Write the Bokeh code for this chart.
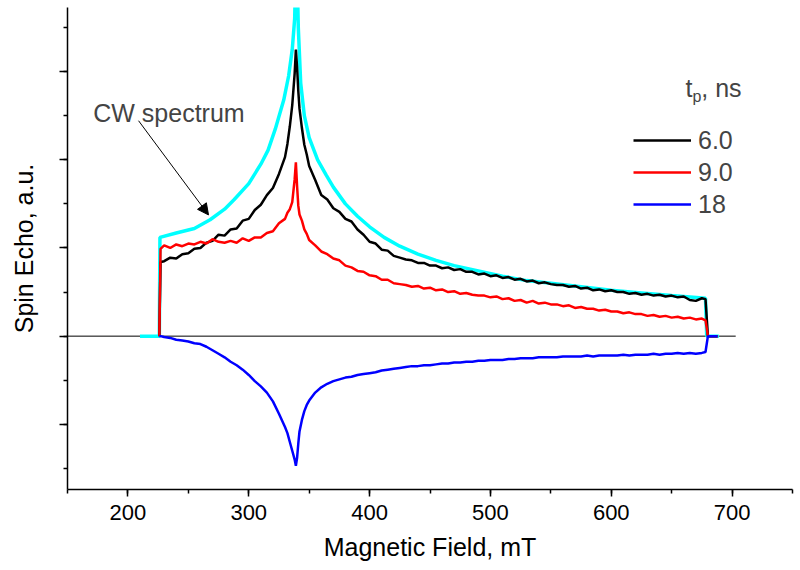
from bokeh.plotting import figure
from bokeh.models import (Range1d, SingleIntervalTicker, Legend, LegendItem, Label,
                          Arrow, NormalHead, CustomJSTickFormatter)
from bokeh.embed import file_html
from bokeh.resources import INLINE

# ---------------- data ----------------
# CW spectrum (cyan)
cw_field = [210, 226, 226.5, 240, 255, 268, 280, 288, 300, 310, 316, 322, 329, 333, 336, 338,
            339.5, 341, 343, 346, 350, 357, 364, 370, 380, 390, 400, 412, 425, 440, 455, 470,
            490, 510, 530, 550, 575, 600, 625, 650, 678, 679, 689]
cw_signal = [0, 0, 1.12, 1.17, 1.22, 1.32, 1.44, 1.55, 1.73, 1.95, 2.11, 2.35, 2.68, 2.95, 3.25, 3.6,
             4.5, 3.5, 2.87, 2.5, 2.25, 2.0, 1.83, 1.69, 1.50, 1.36, 1.24, 1.12, 1.02, 0.93, 0.86, 0.80,
             0.74, 0.68, 0.63, 0.60, 0.56, 0.52, 0.49, 0.46, 0.43, 0, 0]

# echo-detected spectra
field = [226, 227, 230, 235, 240, 245, 250, 255, 260, 265, 270, 275, 280, 285, 290, 295, 300,
         305, 310, 315, 320, 325, 330, 332, 334, 336, 338, 339, 340, 341, 342, 344, 346, 348,
         350, 355, 360, 365, 370, 375, 380, 385, 390, 395, 400, 405, 410, 415, 420, 425, 430,
         435, 440, 445, 450, 455, 460, 465, 470, 475, 480, 485, 490, 495, 500, 505, 510, 515,
         520, 525, 530, 535, 540, 545, 550, 555, 560, 565, 570, 575, 580, 585, 590, 595, 600,
         605, 610, 615, 620, 625, 630, 635, 640, 645, 650, 655, 660, 665, 670, 675, 678, 680, 688]

echo_6ns = [0, 0.84, 0.85, 0.89, 0.88, 0.93, 0.94, 0.99, 1.00, 1.06, 1.08, 1.15, 1.14, 1.21, 1.22,
            1.31, 1.33, 1.43, 1.49, 1.60, 1.68, 1.84, 2.03, 2.18, 2.38, 2.62, 2.98, 3.25, 3.05,
            2.78, 2.58, 2.36, 2.17, 2.06, 1.93, 1.77, 1.60, 1.55, 1.45, 1.41, 1.33, 1.30, 1.21,
            1.15, 1.07, 1.05, 0.98, 0.97, 0.91, 0.89, 0.87, 0.86, 0.83, 0.83, 0.80, 0.80, 0.77,
            0.78, 0.75, 0.76, 0.73, 0.73, 0.70, 0.71, 0.68, 0.69, 0.66, 0.67, 0.64, 0.65, 0.62,
            0.63, 0.60, 0.61, 0.59, 0.58, 0.58, 0.56, 0.57, 0.54, 0.55, 0.52, 0.53, 0.51, 0.52,
            0.50, 0.50, 0.48, 0.49, 0.47, 0.48, 0.46, 0.47, 0.45, 0.46, 0.44, 0.45, 0.41, 0.40,
            0.43, 0.42, 0, 0]

echo_9ns = [0, 0.99, 1.03, 1.00, 1.04, 1.02, 1.05, 1.04, 1.07, 1.05, 1.10, 1.07, 1.06, 1.08, 1.06,
            1.11, 1.08, 1.12, 1.12, 1.17, 1.19, 1.28, 1.33, 1.40, 1.44, 1.52, 1.78, 1.97, 1.70,
            1.48, 1.38, 1.31, 1.21, 1.16, 1.09, 1.03, 0.96, 0.93, 0.88, 0.86, 0.80, 0.78, 0.74,
            0.73, 0.69, 0.68, 0.64, 0.64, 0.60, 0.59, 0.58, 0.56, 0.57, 0.54, 0.55, 0.52, 0.53,
            0.50, 0.51, 0.48, 0.49, 0.47, 0.46, 0.46, 0.44, 0.45, 0.42, 0.43, 0.40, 0.41, 0.38,
            0.40, 0.37, 0.38, 0.36, 0.36, 0.34, 0.35, 0.32, 0.33, 0.31, 0.31, 0.29, 0.30, 0.28,
            0.28, 0.26, 0.27, 0.25, 0.25, 0.23, 0.24, 0.22, 0.23, 0.21, 0.22, 0.20, 0.21, 0.19,
            0.20, 0.18, 0, 0]

echo_18ns = [0, 0.0, -0.01, -0.02, -0.04, -0.05, -0.06, -0.08, -0.09, -0.12, -0.16, -0.20, -0.24,
             -0.29, -0.33, -0.38, -0.44, -0.51, -0.57, -0.64, -0.74, -0.88, -1.03, -1.10, -1.20,
             -1.30, -1.40, -1.47, -1.38, -1.22, -1.08, -0.95, -0.85, -0.78, -0.73, -0.64, -0.58,
             -0.54, -0.51, -0.49, -0.47, -0.46, -0.44, -0.43, -0.42, -0.41, -0.39, -0.38, -0.37,
             -0.36, -0.35, -0.34, -0.34, -0.33, -0.33, -0.32, -0.31, -0.31, -0.30, -0.30, -0.29,
             -0.29, -0.28, -0.28, -0.27, -0.27, -0.27, -0.26, -0.26, -0.25, -0.25, -0.25, -0.24,
             -0.24, -0.24, -0.24, -0.23, -0.23, -0.23, -0.23, -0.22, -0.23, -0.22, -0.22, -0.22,
             -0.22, -0.21, -0.22, -0.21, -0.21, -0.21, -0.20, -0.21, -0.20, -0.20, -0.19, -0.20,
             -0.19, -0.20, -0.19, -0.18, 0, 0]

zero_field = [150, 703]
zero_level = [0, 0]

series_labels = ["6.0", "9.0", "18"]
series_colors = ["#000000", "#FF0000", "#0000FF"]

FONT = "Liberation Sans"

# ---------------- figure ----------------
p = figure(width=798, height=568, x_range=Range1d(150, 750), y_range=Range1d(-1.739, 3.727),
           output_backend="svg", toolbar_location=None,
           min_border_left=67, min_border_right=6, min_border_top=7, min_border_bottom=79)
p.outline_line_color = None
p.xgrid.visible = False
p.ygrid.visible = False

p.xaxis.ticker = SingleIntervalTicker(interval=100, num_minor_ticks=2)
p.yaxis.ticker = SingleIntervalTicker(interval=1, num_minor_ticks=2)
p.yaxis.formatter = CustomJSTickFormatter(code="return ''")

for ax in (p.xaxis[0], p.yaxis[0]):
    ax.axis_line_width = 1.5
    ax.axis_line_color = "black"
    ax.major_tick_line_width = 1.5
    ax.minor_tick_line_width = 1.5
    ax.major_tick_in = 0
    ax.minor_tick_in = 0
    ax.major_label_text_font = FONT
    ax.major_label_text_font_size = "22px"
    ax.major_label_text_color = "black"
    ax.axis_label_text_font = FONT
    ax.axis_label_text_font_size = "25px"
    ax.axis_label_text_font_style = "normal"
    ax.axis_label_text_color = "black"

p.xaxis.major_tick_out = 7
p.xaxis.minor_tick_out = 4
p.xaxis.major_label_standoff = 8
p.xaxis.axis_label = "Magnetic Field, mT"
p.xaxis.axis_label_standoff = 10

p.yaxis.major_tick_out = 8
p.yaxis.minor_tick_out = 4
p.yaxis.major_label_standoff = 0
p.yaxis.axis_label = "Spin Echo, a.u."
p.yaxis.axis_label_standoff = 22

# zero line
p.line(zero_field, zero_level, line_color="black", line_width=1)

# CW spectrum
p.line(cw_field, cw_signal, line_color="#00FFFF", line_width=3.5)

renderers = []
for ys, c in zip([echo_6ns, echo_9ns, echo_18ns], series_colors):
    r = p.line(field, ys, line_color=c, line_width=2.5)
    renderers.append(r)

legend = Legend(items=[LegendItem(label=l, renderers=[r]) for l, r in zip(series_labels, renderers)],
                location=(566, 269), glyph_width=58, glyph_height=32, label_height=32,
                spacing=0, padding=0, margin=0, label_standoff=7,
                border_line_color=None, background_fill_alpha=0,
                label_text_font=FONT, label_text_font_size="25px")
p.add_layout(legend)

# legend title t_p, ns
p.add_layout(Label(x=661.5, y=2.818, text="t", text_font=FONT, text_font_size="25px",
                   text_baseline="alphabetic"))
p.add_layout(Label(x=667.3, y=2.716, text="p", text_font=FONT, text_font_size="16px",
                   text_baseline="alphabetic"))
p.add_layout(Label(x=674.5, y=2.818, text=", ns", text_font=FONT, text_font_size="25px",
                   text_baseline="alphabetic"))

# annotation
p.add_layout(Label(x=171.3, y=2.53, text="CW spectrum", text_font=FONT, text_font_size="25px",
                   text_baseline="alphabetic"))
p.add_layout(Arrow(end=NormalHead(size=11, fill_color="black", line_color="black", line_width=1),
                   x_start=208.8, y_start=2.443, x_end=266.7, y_end=1.375,
                   line_color="black", line_width=1))

open("out.html", "w").write(file_html(p, INLINE))
